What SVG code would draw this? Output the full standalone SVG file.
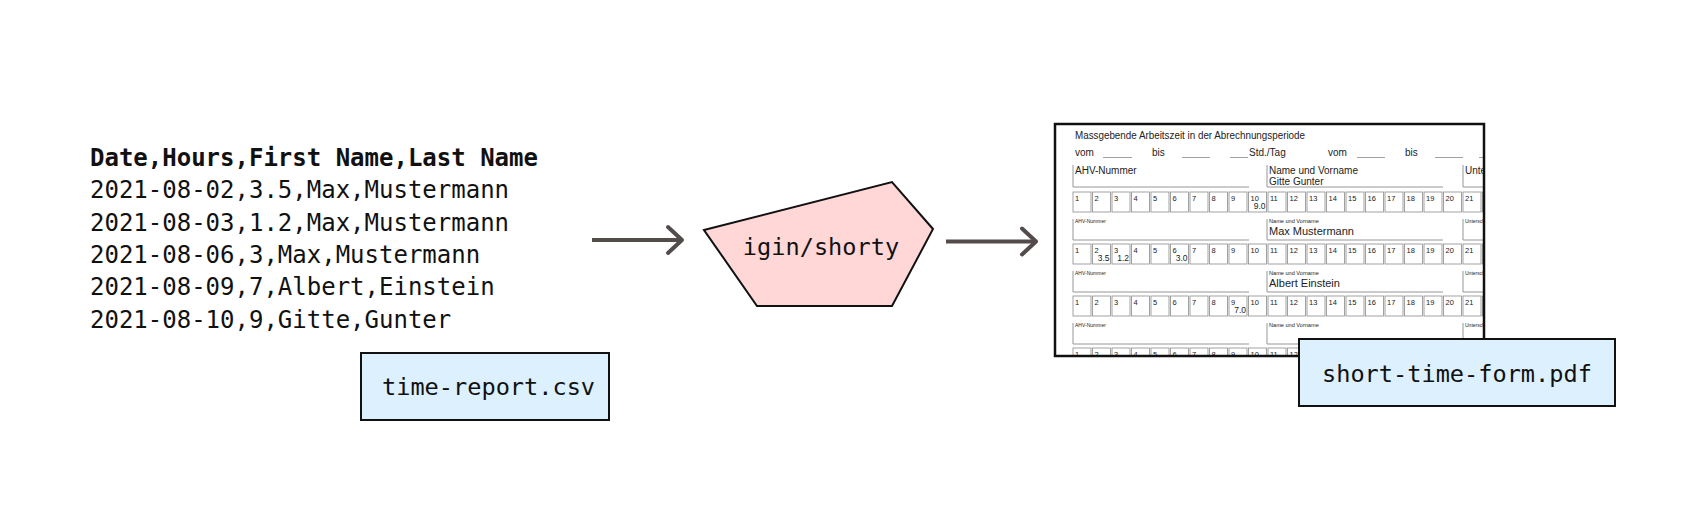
<svg xmlns="http://www.w3.org/2000/svg" xmlns:xlink="http://www.w3.org/1999/xlink" width="1694" height="524" viewBox="0 0 1694 524">
<style>
.mono{font-family:"DejaVu Sans Mono","Liberation Mono",monospace;font-size:23.6px;fill:#111}
.csv{font-size:24px}
.bold{font-weight:bold}
.file{fill:#dcf0fe;stroke:#111;stroke-width:2}
.conn{stroke:#544b4b;stroke-width:4;fill:none}
.f{font-family:"Liberation Sans",Arial,sans-serif;fill:#222}
.f10{font-size:10px}
.f11{font-size:11px}
.num{font-size:7.5px}
.val{font-size:8.5px;text-anchor:end}
.tiny{font-size:5px}
.tiny2{font-size:5.6px}
.cell{fill:none;stroke:#8a8a8a;stroke-width:0.8}
.ln{stroke:#8a8a8a;stroke-width:0.9;fill:none}
.ul{stroke:#777;stroke-width:0.7}
</style>
<defs>
<marker id="chev" markerUnits="userSpaceOnUse" markerWidth="40" markerHeight="40" refX="20" refY="20" orient="auto" viewBox="0 0 40 40">
<path d="M6,7 L20,20 L6,33" fill="none" stroke="#544b4b" stroke-width="4" stroke-linecap="round" stroke-linejoin="round"/>
</marker>
<clipPath id="page"><rect x="1055" y="124" width="429" height="232"/></clipPath>
<g id="dayrow">
<rect class="cell" x="1073" y="0" width="18" height="20"/><rect class="cell" x="1092.5" y="0" width="18" height="20"/><rect class="cell" x="1112" y="0" width="18" height="20"/><rect class="cell" x="1131.5" y="0" width="18" height="20"/><rect class="cell" x="1151" y="0" width="18" height="20"/><rect class="cell" x="1170.5" y="0" width="18" height="20"/><rect class="cell" x="1190" y="0" width="18" height="20"/><rect class="cell" x="1209.5" y="0" width="18" height="20"/><rect class="cell" x="1229" y="0" width="18" height="20"/><rect class="cell" x="1248.5" y="0" width="18" height="20"/><rect class="cell" x="1268" y="0" width="18" height="20"/><rect class="cell" x="1287.5" y="0" width="18" height="20"/><rect class="cell" x="1307" y="0" width="18" height="20"/><rect class="cell" x="1326.5" y="0" width="18" height="20"/><rect class="cell" x="1346" y="0" width="18" height="20"/><rect class="cell" x="1365.5" y="0" width="18" height="20"/><rect class="cell" x="1385" y="0" width="18" height="20"/><rect class="cell" x="1404.5" y="0" width="18" height="20"/><rect class="cell" x="1424" y="0" width="18" height="20"/><rect class="cell" x="1443.5" y="0" width="18" height="20"/><rect class="cell" x="1463" y="0" width="18" height="20"/><rect class="cell" x="1482.5" y="0" width="18" height="20"/>
<g class="f num">
<text x="1075" y="9">1</text><text x="1094.5" y="9">2</text><text x="1114" y="9">3</text><text x="1133.5" y="9">4</text><text x="1153" y="9">5</text><text x="1172.5" y="9">6</text><text x="1192" y="9">7</text><text x="1211.5" y="9">8</text><text x="1231" y="9">9</text><text x="1250.5" y="9">10</text><text x="1270" y="9">11</text><text x="1289.5" y="9">12</text><text x="1309" y="9">13</text><text x="1328.5" y="9">14</text><text x="1348" y="9">15</text><text x="1367.5" y="9">16</text><text x="1387" y="9">17</text><text x="1406.5" y="9">18</text><text x="1426" y="9">19</text><text x="1445.5" y="9">20</text><text x="1465" y="9">21</text>
</g>
</g>
<g id="hdr">
<path class="ln" d="M1073,27 V48 H1249 M1267,27 V48 H1443 M1463,27 V48 H1484"/>
<text class="f tiny" x="1075" y="31">AHV-Nummer</text>
<text class="f tiny2" x="1269" y="31">Name und Vorname</text>
<text class="f tiny" x="1465" y="31">Unterschrift</text>
</g>
</defs>

<g id="csv-data">
<text class="mono csv bold" x="90" y="166">Date,Hours,First Name,Last Name</text>
<text class="mono csv" x="90" y="198.3">2021-08-02,3.5,Max,Mustermann</text>
<text class="mono csv" x="90" y="230.6">2021-08-03,1.2,Max,Mustermann</text>
<text class="mono csv" x="90" y="262.9">2021-08-06,3,Max,Mustermann</text>
<text class="mono csv" x="90" y="295.2">2021-08-09,7,Albert,Einstein</text>
<text class="mono csv" x="90" y="327.5">2021-08-10,9,Gitte,Gunter</text>
</g>

<g id="time-report">
<rect class="file" x="361" y="353" width="248" height="67"/>
<text class="mono" x="382" y="395">time-report.csv</text>
</g>

<g id="shorty">
<polygon points="704,230 892,182 933,229 892,306 757,306" fill="#ffd7d7" stroke="#111" stroke-width="2" stroke-linejoin="miter"/>
<text class="mono" x="821" y="255" text-anchor="middle">igin/shorty</text>
</g>

<g id="pdf-form">
<rect x="1055" y="124" width="429" height="232" fill="#fff"/>
<g clip-path="url(#page)">
<text class="f f10" x="1075" y="138.5" textLength="230" lengthAdjust="spacingAndGlyphs">Massgebende Arbeitszeit in der Abrechnungsperiode</text>
<g class="f f10">
<text x="1075" y="156">vom</text><text x="1152" y="156">bis</text><text x="1249" y="156">Std./Tag</text><text x="1328" y="156">vom</text><text x="1405" y="156">bis</text>
</g>
<path class="ul" d="M1103,157.5 H1132 M1182,157.5 H1210 M1230,157.5 H1248 M1357,157.5 H1385 M1435,157.5 H1463 M1479,157.5 H1484"/>
<path class="ln" d="M1073,165 V187 H1249 M1267,165 V187 H1443 M1463,165 V187 H1484"/>
<g class="f f10">
<text x="1075" y="174">AHV-Nummer</text>
<text x="1269" y="174">Name und Vorname</text>
<text x="1269" y="185">Gitte Gunter</text>
<text x="1465" y="174">Unterschrift</text>
</g>
<use xlink:href="#dayrow" transform="translate(0,192)"/>
<text class="f val" x="1265.5" y="209">9.0</text>
<use xlink:href="#hdr" transform="translate(0,192)"/>
<text class="f f11" x="1269" y="235">Max Mustermann</text>
<use xlink:href="#dayrow" transform="translate(0,244)"/>
<g class="f val"><text x="1109.5" y="261">3.5</text><text x="1129" y="261">1.2</text><text x="1187.5" y="261">3.0</text></g>
<use xlink:href="#hdr" transform="translate(0,244)"/>
<text class="f f11" x="1269" y="287">Albert Einstein</text>
<use xlink:href="#dayrow" transform="translate(0,296)"/>
<text class="f val" x="1246" y="313">7.0</text>
<use xlink:href="#hdr" transform="translate(0,296)"/>
<use xlink:href="#dayrow" transform="translate(0,348)"/>
</g>
<rect x="1055" y="124" width="429" height="232" fill="none" stroke="#111" stroke-width="2.5"/>
</g>

<g id="short-time-form">
<rect class="file" x="1299" y="339" width="316" height="67"/>
<text class="mono" x="1322" y="382">short-time-form.pdf</text>
</g>

<g id="connectors">
<line class="conn" x1="592" y1="240" x2="682" y2="240" marker-end="url(#chev)"/>
<line class="conn" x1="946" y1="241.5" x2="1036" y2="241.5" marker-end="url(#chev)"/>
</g>
</svg>
